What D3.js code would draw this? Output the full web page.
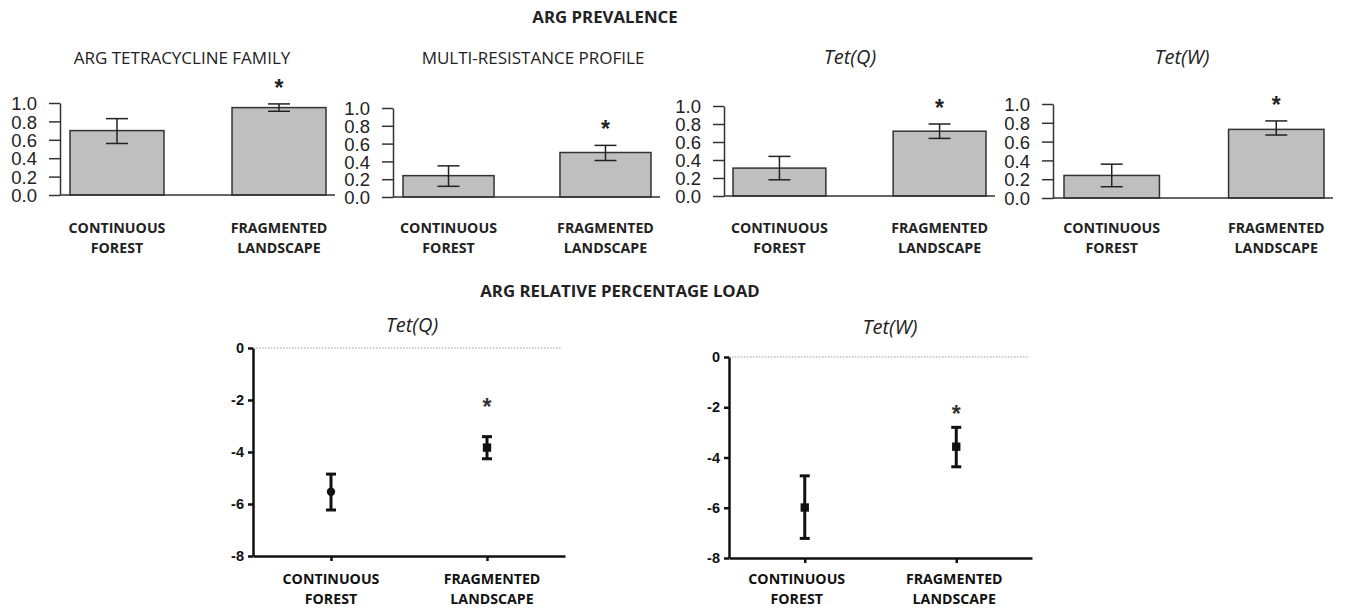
<!DOCTYPE html>
<html>
<head>
<meta charset="utf-8">
<script src="https://cdn.jsdelivr.net/npm/d3@7"></script>
<style>
  body { margin: 0; background: #fff; }
  svg { display: block; }
</style>
</head>
<body>
<div id="chart"></div>
<script>
///////////////////////////// data /////////////////////////////
const categories = ["CONTINUOUS FOREST", "FRAGMENTED LANDSCAPE"];
const categoryLines = [["CONTINUOUS", "FOREST"], ["FRAGMENTED", "LANDSCAPE"]];

// ARG prevalence (bar charts, mean with error bars)
const prevalenceTitles = ["ARG TETRACYCLINE FAMILY", "MULTI-RESISTANCE PROFILE", "Tet(Q)", "Tet(W)"];
const prevalenceItalic = [false, false, true, true];
const prevalenceMean = [[0.70, 0.95], [0.24, 0.50], [0.31, 0.72], [0.24, 0.73]];
const prevalenceLow  = [[0.56, 0.91], [0.12, 0.41], [0.18, 0.64], [0.12, 0.67]];
const prevalenceHigh = [[0.83, 0.99], [0.35, 0.58], [0.44, 0.80], [0.36, 0.82]];
const prevalenceSig  = [[false, true], [false, true], [false, true], [false, true]];
const prevalenceTicks = [0, 0.2, 0.4, 0.6, 0.8, 1.0];

// ARG relative percentage load (mean with error bars)
const loadTitles = ["Tet(Q)", "Tet(W)"];
const loadMean = [[-5.53, -3.83], [-5.99, -3.57]];
const loadLow  = [[-6.23, -4.26], [-7.22, -4.37]];
const loadHigh = [[-4.85, -3.41], [-4.73, -2.80]];
const loadShape = [["circle", "square"], ["square", "square"]];
const loadSig = [[false, true], [false, true]];
const loadTicks = [0, -2, -4, -6, -8];

///////////////////////////// layout /////////////////////////////
const width = 1348;
const height = 609;
const textFont = "'Open Sans', 'DejaVu Sans', sans-serif";
const numFont = "'Liberation Sans', Arial, sans-serif";
const ink = "#222";

const prevLayout = [
  {axisX: 60,   xEnd: 335,  y0: 195, y1: 103, barL: 70,   barR: 326,  titleX: 182},
  {axisX: 393,  xEnd: 660,  y0: 197, y1: 108, barL: 403,  barR: 651,  titleX: 533},
  {axisX: 724,  xEnd: 995,  y0: 196, y1: 106, barL: 733,  barR: 986,  titleX: 850},
  {axisX: 1053, xEnd: 1333, y0: 198, y1: 104, barL: 1064, barR: 1324, titleX: 1182}
];
const loadLayout = [
  {axisX: 253, xEnd: 565,  y0: 348, y8: 556, titleX: 412, titleY: 332, labDx: [0, 5]},
  {axisX: 729, xEnd: 1032, y0: 357, y8: 558, titleX: 890, titleY: 334, labDx: [-8, -2]}
];

const svg = d3.select("#chart").append("svg")
  .attr("width", width)
  .attr("height", height);

// section headings
svg.append("text")
  .attr("x", 605).attr("y", 23)
  .attr("text-anchor", "middle")
  .attr("font-family", textFont).attr("font-weight", 700).attr("font-size", 16.8)
  .attr("fill", ink)
  .text("ARG PREVALENCE");

svg.append("text")
  .attr("x", 620).attr("y", 297)
  .attr("text-anchor", "middle")
  .attr("font-family", textFont).attr("font-weight", 700).attr("font-size", 16.8)
  .attr("fill", ink)
  .text("ARG RELATIVE PERCENTAGE LOAD");

//////////////////////// prevalence bar panels ////////////////////////
prevLayout.forEach((L, p) => {
  const g = svg.append("g");

  const y = d3.scaleLinear().domain([0, 1]).range([L.y0, L.y1]);
  const x = d3.scaleBand().domain(categories).range([L.barL, L.barR]).paddingInner(0.42);
  const rows = categories.map((c, i) => ({
    cat: c, mean: prevalenceMean[p][i], lo: prevalenceLow[p][i],
    hi: prevalenceHigh[p][i], sig: prevalenceSig[p][i], lines: categoryLines[i]
  }));

  // title
  g.append("text")
    .attr("x", L.titleX).attr("y", 64)
    .attr("text-anchor", "middle")
    .attr("font-family", textFont)
    .attr("font-size", prevalenceItalic[p] ? 20 : 17)
    .attr("font-style", prevalenceItalic[p] ? "italic" : "normal")
    .attr("fill", ink)
    .text(prevalenceTitles[p]);

  // bars
  g.selectAll(".bar").data(rows).join("rect")
    .attr("class", "bar")
    .attr("x", d => x(d.cat))
    .attr("width", x.bandwidth())
    .attr("y", d => y(d.mean))
    .attr("height", d => y(0) - y(d.mean))
    .attr("fill", "#bfbfbf")
    .attr("stroke", "#333")
    .attr("stroke-width", 1.5);

  // error bars
  const cx = d => x(d.cat) + x.bandwidth() / 2;
  const eb = g.selectAll(".err").data(rows).join("g").attr("class", "err")
    .attr("stroke", ink).attr("stroke-width", 1.5);
  eb.append("line").attr("x1", cx).attr("x2", cx).attr("y1", d => y(d.lo)).attr("y2", d => y(d.hi));
  eb.append("line").attr("x1", d => cx(d) - 11).attr("x2", d => cx(d) + 11).attr("y1", d => y(d.hi)).attr("y2", d => y(d.hi));
  eb.append("line").attr("x1", d => cx(d) - 11).attr("x2", d => cx(d) + 11).attr("y1", d => y(d.lo)).attr("y2", d => y(d.lo));

  // significance asterisks
  g.selectAll(".sig").data(rows.filter(d => d.sig)).join("text")
    .attr("class", "sig")
    .attr("x", cx)
    .attr("y", d => y(d.hi) - 8)
    .attr("text-anchor", "middle")
    .attr("font-family", numFont).attr("font-size", 23).attr("font-weight", 700)
    .attr("fill", ink)
    .text("*");

  // y axis
  g.append("g")
    .attr("transform", `translate(${L.axisX},0)`)
    .call(d3.axisLeft(y).tickValues(prevalenceTicks).tickFormat(d3.format(".1f"))
      .tickSize(11).tickPadding(12).tickSizeOuter(0))
    .call(a => a.selectAll("path, line").attr("stroke", "#333").attr("stroke-width", 1.5))
    .call(a => a.selectAll("text").attr("font-family", numFont).attr("font-size", 18.5)
      .attr("fill", ink).attr("dy", "0.36em"));

  // x axis baseline
  g.append("line")
    .attr("x1", L.axisX).attr("x2", L.xEnd)
    .attr("y1", y(0)).attr("y2", y(0))
    .attr("stroke", "#333").attr("stroke-width", 1.5);

  // category labels
  const lab = g.selectAll(".cat").data(rows).join("text")
    .attr("class", "cat")
    .attr("text-anchor", "middle")
    .attr("font-family", textFont).attr("font-weight", 700).attr("font-size", 14.2)
    .attr("fill", ink);
  lab.selectAll("tspan").data(d => d.lines.map(t => ({t, x: cx(d)}))).join("tspan")
    .attr("x", d => d.x)
    .attr("y", (d, i) => 233 + i * 19.5)
    .text(d => d.t);
});

//////////////////////// relative load panels ////////////////////////
loadLayout.forEach((L, p) => {
  const g = svg.append("g");

  const y = d3.scaleLinear().domain([-8, 0]).range([L.y8, L.y0]);
  const x = d3.scalePoint().domain(categories).range([L.axisX, L.xEnd]).padding(0.5);
  const rows = categories.map((c, i) => ({
    cat: c, mean: loadMean[p][i], lo: loadLow[p][i], hi: loadHigh[p][i],
    shape: loadShape[p][i], sig: loadSig[p][i], lines: categoryLines[i], dx: L.labDx[i]
  }));

  // title
  g.append("text")
    .attr("x", L.titleX).attr("y", L.titleY)
    .attr("text-anchor", "middle")
    .attr("font-family", textFont).attr("font-size", 20).attr("font-style", "italic")
    .attr("fill", ink)
    .text(loadTitles[p]);

  // dotted zero reference line
  g.append("line")
    .attr("x1", L.axisX).attr("x2", L.xEnd - 4)
    .attr("y1", y(0)).attr("y2", y(0))
    .attr("stroke", "#9a9a9a").attr("stroke-width", 1)
    .attr("stroke-dasharray", "1.5,1.5");

  // y axis
  g.append("g")
    .attr("transform", `translate(${L.axisX},0)`)
    .call(d3.axisLeft(y).tickValues(loadTicks)
      .tickSize(5).tickPadding(4).tickSizeOuter(0))
    .call(a => a.selectAll("path, line").attr("stroke", "#111").attr("stroke-width", 2.5))
    .call(a => a.selectAll("text").attr("font-family", numFont).attr("font-weight", 700)
      .attr("font-size", 14.5).attr("fill", "#111").text(d => d === 0 ? "0" : "-" + Math.abs(d)));

  // x axis
  g.append("g")
    .attr("transform", `translate(0,${y(-8)})`)
    .call(d3.axisBottom(x).tickSize(5).tickSizeOuter(0).tickFormat(""))
    .call(a => a.selectAll("path, line").attr("stroke", "#111").attr("stroke-width", 2.5));

  // error bars
  const eb = g.selectAll(".err").data(rows).join("g").attr("class", "err")
    .attr("stroke", "#111").attr("stroke-width", 3);
  eb.append("line").attr("x1", d => x(d.cat)).attr("x2", d => x(d.cat))
    .attr("y1", d => y(d.lo)).attr("y2", d => y(d.hi));
  eb.append("line").attr("x1", d => x(d.cat) - 5).attr("x2", d => x(d.cat) + 5)
    .attr("y1", d => y(d.hi)).attr("y2", d => y(d.hi));
  eb.append("line").attr("x1", d => x(d.cat) - 5).attr("x2", d => x(d.cat) + 5)
    .attr("y1", d => y(d.lo)).attr("y2", d => y(d.lo));

  // mean markers
  const sym = {circle: d3.symbolCircle, square: d3.symbolSquare};
  g.selectAll(".mark").data(rows).join("path")
    .attr("class", "mark")
    .attr("transform", d => `translate(${x(d.cat)},${y(d.mean)})`)
    .attr("d", d => d3.symbol(sym[d.shape], d.shape === "circle" ? 55 : 70)())
    .attr("fill", "#111");

  // significance asterisks (drawn at the -2 level)
  g.selectAll(".sig").data(rows.filter(d => d.sig)).join("text")
    .attr("class", "sig")
    .attr("x", d => x(d.cat))
    .attr("y", y(-2) + 15)
    .attr("text-anchor", "middle")
    .attr("font-family", numFont).attr("font-size", 23).attr("font-weight", 700)
    .attr("fill", "#333")
    .text("*");

  // category labels
  const lab = g.selectAll(".cat").data(rows).join("text")
    .attr("class", "cat")
    .attr("text-anchor", "middle")
    .attr("font-family", textFont).attr("font-weight", 700).attr("font-size", 14.2)
    .attr("fill", "#111");
  lab.selectAll("tspan").data(d => d.lines.map(t => ({t, x: x(d.cat) + d.dx}))).join("tspan")
    .attr("x", d => d.x)
    .attr("y", (d, i) => 584 + i * 20)
    .text(d => d.t);
});
</script>
</body>
</html>
